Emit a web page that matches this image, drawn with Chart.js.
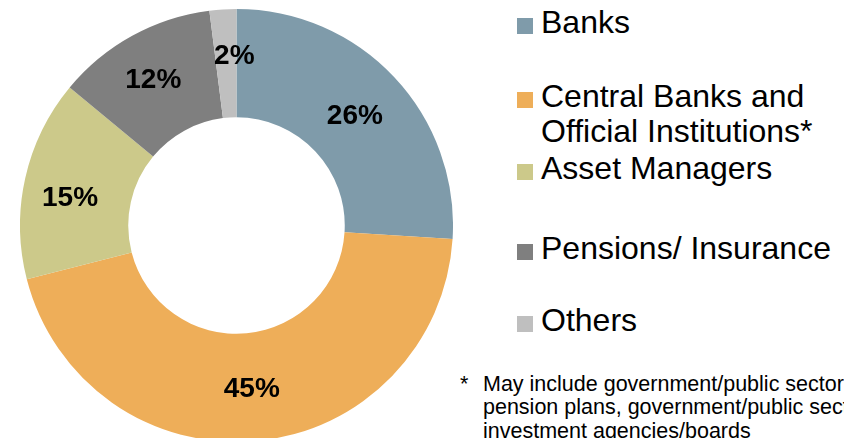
<!DOCTYPE html>
<html>
<head>
<meta charset="utf-8">
<script src="https://cdn.jsdelivr.net/npm/chart.js@4"></script>
<style>
  html, body { margin: 0; padding: 0; width: 844px; height: 438px; overflow: hidden; background: #fff; }
  #wrap { position: absolute; left: 20px; top: 9px; width: 433px; height: 433px; }
  .leg { position: absolute; left: 541px; font: 32px "Liberation Sans", Arial, sans-serif; line-height: 35px; color: #000; white-space: nowrap; }
  .sq { position: absolute; left: 517px; width: 16px; height: 16px; }
  #note { position: absolute; left: 460px; top: 372.5px; font: 21.5px "Liberation Sans", Arial, sans-serif; line-height: 23.5px; color: #000; white-space: nowrap; }
  #note span { position: absolute; left: 23px; top: 0; }
</style>
</head>
<body>
<div id="wrap"><canvas id="myChart"></canvas></div>
<div id="legend"></div>
<div id="note">*<span>May include government/public sector<br>pension plans, government/public sector<br>investment agencies/boards</span></div>
<script>
// datos del grafico
const categorias = ["Banks", "Central Banks and Official Institutions*", "Asset Managers", "Pensions/ Insurance", "Others"];
const valores = [26, 45, 15, 12, 2];
const colores = ["#7F9BAA", "#EEAE59", "#CCC98A", "#7F7F7F", "#BFBFBF"];

(()=>{
    // leyenda en html, lineas de texto como en la referencia
    const legendLines = [
        ["Banks"],
        ["Central Banks and", "Official Institutions*"],
        ["Asset Managers"],
        ["Pensions/ Insurance"],
        ["Others"]
    ];
    const baselines = [34, 108, 180, 260, 332];
    const legend = document.getElementById("legend");
    legendLines.forEach((lines, i) => {
        legend.innerHTML += `<div class="sq" style="top:${baselines[i]-16}px;background:${colores[i]}"></div>`;
        legend.innerHTML += `<div class="leg" style="top:${baselines[i]-28.6}px">${lines.join("<br>")}</div>`;
    });

    // pequeños ajustes de las etiquetas respecto al centro del arco
    const nudges = [[0, 2], [0, 2], [-8, 8], [-5, -3], [8, -7]];

    // etiquetas de porcentaje dentro del anillo
    const pctLabels = {
        id: 'pctLabels',
        afterDatasetsDraw(chart){
            const ctx = chart.ctx;
            const meta = chart.getDatasetMeta(0);
            ctx.save();
            ctx.font = 'bold 28px "Liberation Sans", Arial, sans-serif';
            ctx.fillStyle = '#000';
            ctx.textAlign = 'center';
            ctx.textBaseline = 'middle';
            meta.data.forEach((arc, i) => {
                const p = arc.tooltipPosition(true);
                ctx.fillText(valores[i] + '%', p.x + nudges[i][0], p.y + nudges[i][1]);
            });
            ctx.restore();
        }
    };

    new Chart(document.getElementById('myChart').getContext('2d'), {
        type: 'doughnut',
        data: {
            labels: categorias,
            datasets: [{
                data: valores,
                backgroundColor: colores,
                borderWidth: 0,
                hoverOffset: 0
            }]
        },
        options: {
            responsive: true,
            maintainAspectRatio: false,
            animation: false,
            cutout: '50%',
            layout: { padding: 0 },
            plugins: {
                legend: { display: false },
                tooltip: { enabled: false }
            }
        },
        plugins: [pctLabels]
    });
})();
</script>
</body>
</html>
